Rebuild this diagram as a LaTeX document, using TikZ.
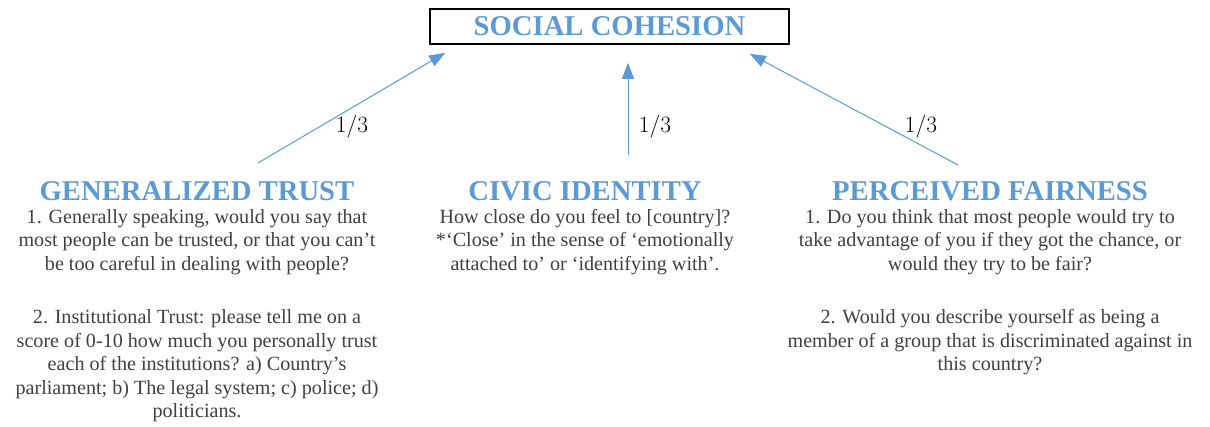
\documentclass[tikz,border=0pt]{standalone}
\usepackage{fontspec}
\usetikzlibrary{positioning, arrows.meta, calc}
\newfontfamily\bodyfont{Liberation Serif}
\definecolor{titleblue}{HTML}{5B9BD5}
\definecolor{textgray}{HTML}{404040}
\tikzstyle{heading} = [inner sep=0pt, anchor=base, text=titleblue, font=\bodyfont\bfseries\fontsize{21.5}{24}\selectfont]
\tikzstyle{question} = [inner sep=0pt, anchor=north, align=center, text=textgray, font=\bodyfont\fontsize{15.1}{17.6}\selectfont]
\tikzstyle{topbox} = [draw=black, line width=1.5pt, minimum width=269pt, minimum height=26pt, inner sep=0pt]
\tikzstyle{weight} = [inner sep=0pt, font=\fontsize{17.5}{20}\selectfont]
\tikzstyle{arrow} = [titleblue, line width=0.75pt, -{Triangle[length=12pt,width=9pt]}]

\begin{document}
\begin{tikzpicture}[x=0.75pt, y=-0.75pt]
\useasboundingbox (0,0) rectangle (1210,427);

\node (cohesion) [topbox, text=titleblue, font=\bodyfont\bfseries\fontsize{21.5}{24}\selectfont] at (609.5,26.5) {SOCIAL COHESION};

\node (trust) [heading] at (197,201) {GENERALIZED TRUST};
\node (trustq) [question, below=6pt of trust.base] {1. Generally speaking, would you say that\\most people can be trusted, or that you can’t\\be too careful in dealing with people?\\[22.5pt]2. Institutional Trust: please tell me on a\\score of 0-10 how much you personally trust\\each of the institutions? a) Country’s\\parliament; b) The legal system; c) police; d)\\politicians.};

\node (identity) [heading] at (585,201) {CIVIC IDENTITY};
\node (identityq) [question, below=6pt of identity.base] {How close do you feel to [country]?\\*‘Close’ in the sense of ‘emotionally\\attached to’ or ‘identifying with’.};

\node (fairness) [heading] at (990,201) {PERCEIVED FAIRNESS};
\node (fairnessq) [question, below=6pt of fairness.base] {1. Do you think that most people would try to\\take advantage of you if they got the chance, or\\would they try to be fair?\\[22.5pt]2. Would you describe yourself as being a\\member of a group that is discriminated against in\\this country?};

\coordinate (trusttail) at (258,163);
\coordinate (identitytail) at (628,155);
\coordinate (fairnesstail) at (958,165);

\draw [arrow] (trusttail) -- ($(cohesion.south west)+(16,8)$);
\draw [arrow] (identitytail) -- ($(cohesion.south)+(18.5,18)$);
\draw [arrow] (fairnesstail) -- ($(cohesion.south east)+(-40,9)$);

\node (trustw) [weight] at (352,127) {1/3};
\node (identityw) [weight] at (655,127) {1/3};
\node (fairnessw) [weight] at (921,127) {1/3};

\end{tikzpicture}
\end{document}
